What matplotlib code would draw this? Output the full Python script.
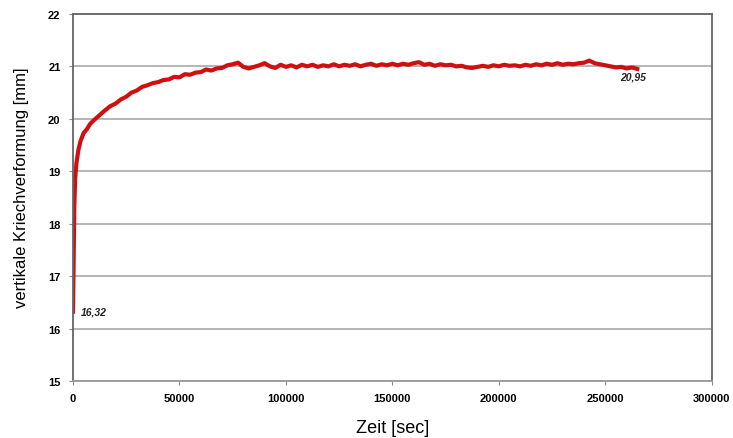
import numpy as np
import matplotlib.pyplot as plt

# creep measurement, time in 1000 s
t_k = [0, 0.3, 0.6, 1.0, 1.6, 2.5, 3.5, 5, 6.5, 8,
       10, 12.5, 15, 17.5, 20, 22.5, 25, 27.5, 30, 32.5,
       35, 37.5, 40, 42.5, 45, 47.5, 50, 52.5, 55, 57.5,
       60, 62.5, 65, 67.5, 70, 72.5, 75, 77.5, 80, 82.5,
       85, 87.5, 90, 92.5, 95, 97.5, 100, 102.5, 105, 107.5,
       110, 112.5, 115, 117.5, 120, 122.5, 125, 127.5, 130, 132.5,
       135, 137.5, 140, 142.5, 145, 147.5, 150, 152.5, 155, 157.5,
       160, 162.5, 165, 167.5, 170, 172.5, 175, 177.5, 180, 182.5,
       185, 187.5, 190, 192.5, 195, 197.5, 200, 202.5, 205, 207.5,
       210, 212.5, 215, 217.5, 220, 222.5, 225, 227.5, 230, 232.5,
       235, 237.5, 240, 242.5, 245, 247.5, 250, 252.5, 255, 257.5,
       260, 262.5, 265]
creep = [16.32, 17.3, 18.3, 18.85, 19.15, 19.4, 19.57, 19.73, 19.8, 19.9,
         19.98, 20.07, 20.16, 20.24, 20.29, 20.37, 20.42, 20.5, 20.54, 20.61,
         20.64, 20.68, 20.7, 20.74, 20.75, 20.8, 20.79, 20.85, 20.84, 20.88,
         20.89, 20.94, 20.92, 20.96, 20.97, 21.02, 21.04, 21.07, 20.99, 20.96,
         20.99, 21.02, 21.06, 21.0, 20.97, 21.03, 20.99, 21.02, 20.98, 21.03,
         21.0, 21.03, 20.99, 21.02, 21.0, 21.04, 21.0, 21.03, 21.01, 21.04,
         21.0, 21.03, 21.05, 21.01, 21.04, 21.02, 21.05, 21.02, 21.05, 21.03,
         21.06, 21.08, 21.03, 21.05, 21.01, 21.04, 21.02, 21.03, 21.0, 21.01,
         20.98, 20.97, 20.99, 21.01, 20.99, 21.02, 21.0, 21.03, 21.01, 21.02,
         21.0, 21.03, 21.01, 21.04, 21.02, 21.05, 21.03, 21.06, 21.03, 21.05,
         21.04, 21.06, 21.07, 21.11, 21.06, 21.04, 21.02, 21.0, 20.98, 20.99,
         20.96, 20.98, 20.95]
y_ticks = [15, 16, 17, 18, 19, 20, 21, 22]
x_ticks = [0, 50000, 100000, 150000, 200000, 250000, 300000]

t = np.array(t_k) * 1000

plt.rcParams['font.family'] = ['Liberation Sans', 'DejaVu Sans']
fig = plt.figure(figsize=(7.33, 4.39), dpi=100)
ax = fig.add_axes([0.0996, 0.130, 0.8714, 0.836])

ax.plot(t, creep, color='#d01010', linewidth=3.0, solid_joinstyle='round')

ax.text(3600, 16.33, '16,32', fontsize=7.5, fontweight='bold', style='italic',
        ha='left', va='center', color='#222222')
ax.text(257000, 20.8, '20,95', fontsize=7.5, fontweight='bold', style='italic',
        ha='left', va='center', color='#222222')

ax.set_xlim(0, 300000)
ax.set_ylim(15, 22)
ax.set_yticks(y_ticks)
ax.set_xticks(x_ticks)
ax.set_xticklabels([str(v) for v in x_ticks], fontsize=8, fontweight='bold')
ax.set_yticklabels([str(v) for v in y_ticks], fontsize=8, fontweight='bold')
ax.yaxis.grid(True, color='#b0b0b0', linewidth=1.3)
ax.set_axisbelow(True)
ax.tick_params(axis='both', length=3, color='#888888', pad=6)

for side in ['top', 'right', 'left']:
    ax.spines[side].set_color('#666666')
    ax.spines[side].set_linewidth(1.3)
ax.spines['bottom'].set_color('#999999')
ax.spines['bottom'].set_linewidth(1.3)

ax.set_xlabel('Zeit [sec]', fontsize=13, labelpad=11)
ax.set_ylabel('vertikale Kriechverformung [mm]', fontsize=12, va='center')
ax.yaxis.set_label_coords(-0.081, 0.53)

fig.savefig('out.png', dpi=100)
